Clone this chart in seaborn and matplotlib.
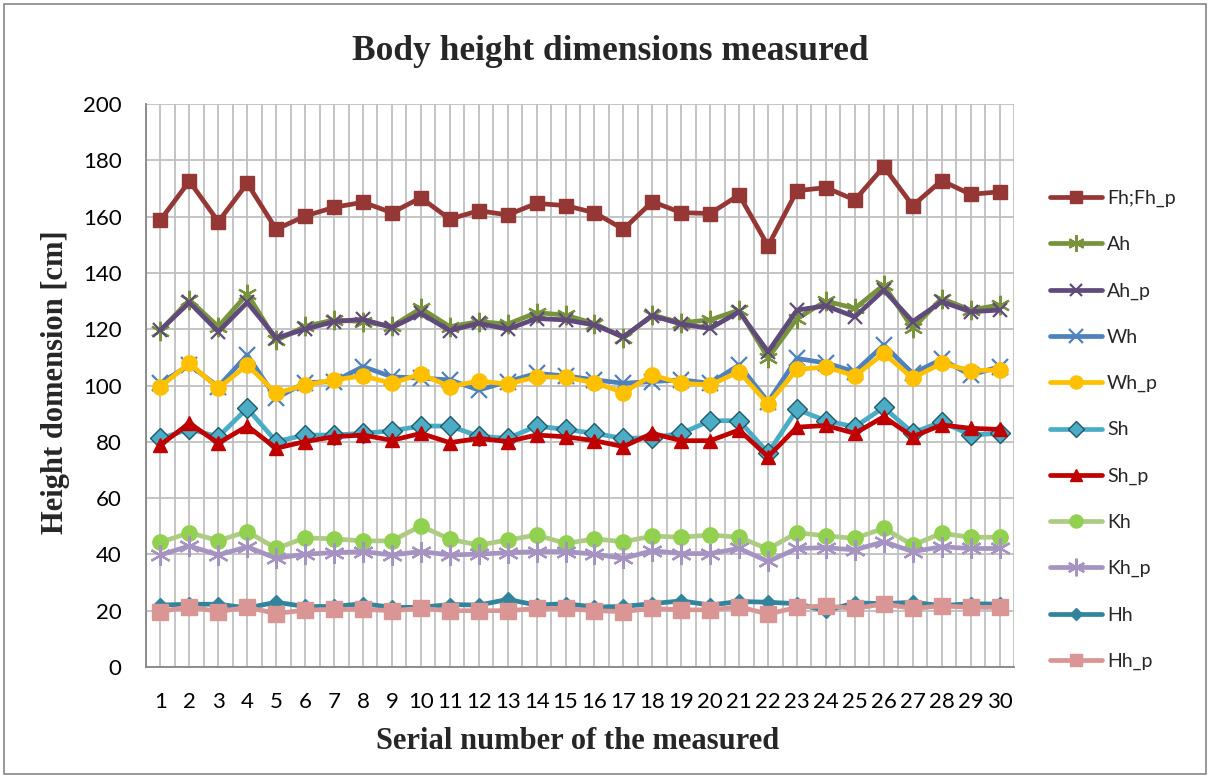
import numpy as np
import pandas as pd
import matplotlib
matplotlib.use("Agg")
import matplotlib.pyplot as plt
import seaborn as sns
from matplotlib.patches import Rectangle

# Serial numbers of the measured persons
serial = list(range(1, 31))

# Height dimensions [cm]
fh = [158.8, 172.6, 158.2, 171.8, 155.5, 160.2, 163.3, 165.1, 161.4, 166.7,
      159.1, 162.1, 160.6, 164.7, 163.9, 161.4, 155.5, 165.3, 161.4, 161.1,
      167.7, 149.6, 169.2, 170.3, 165.9, 177.7, 163.9, 172.8, 167.9, 168.8]
ah = [119.5, 130.4, 120.9, 132.5, 116.0, 121.0, 123.3, 122.7, 121.0, 127.4,
      120.9, 122.7, 121.8, 125.9, 125.0, 122.0, 117.0, 125.0, 122.3, 123.3,
      126.8, 109.8, 123.8, 130.0, 127.4, 135.7, 120.3, 130.9, 126.8, 128.6]
ah_p = [119.7, 129.5, 119.1, 129.5, 116.9, 120.0, 122.7, 123.5, 120.6, 125.6,
        119.5, 122.1, 120.0, 123.8, 123.3, 121.5, 117.3, 124.8, 121.8, 120.3,
        126.2, 112.0, 126.8, 128.3, 124.4, 133.9, 122.7, 129.8, 126.2, 126.8]
wh = [100.8, 107.3, 99.6, 110.8, 95.5, 101.0, 101.4, 106.7, 103.1, 102.6,
      102.0, 98.4, 101.4, 104.3, 103.4, 102.0, 100.8, 101.4, 102.0, 100.8,
      107.3, 94.2, 109.6, 108.0, 104.9, 114.4, 104.3, 109.3, 103.7, 106.7]
wh_p = [99.6, 107.9, 99.0, 107.3, 97.2, 100.2, 102.0, 103.4, 100.8, 104.1,
        99.6, 101.6, 100.5, 103.1, 102.9, 101.0, 97.5, 103.7, 100.8, 100.2,
        104.9, 93.4, 105.7, 106.6, 103.4, 111.4, 102.6, 107.9, 105.3, 105.5]
sh = [81.2, 84.5, 81.8, 91.9, 80.1, 82.4, 82.4, 83.0, 83.9, 85.6,
      85.6, 82.0, 81.2, 85.6, 84.4, 83.0, 81.2, 81.5, 83.0, 87.5,
      87.5, 76.1, 91.5, 87.5, 85.3, 92.2, 83.2, 87.1, 82.4, 83.0]
sh_p = [78.9, 86.6, 79.5, 85.6, 77.7, 80.1, 81.8, 82.4, 80.5, 83.0,
        79.7, 81.2, 80.1, 82.4, 81.8, 80.4, 78.3, 83.0, 80.4, 80.4,
        84.2, 74.7, 85.2, 85.8, 83.0, 88.9, 81.8, 86.0, 84.8, 84.4]
kh = [44.3, 47.7, 44.9, 48.1, 42.1, 45.9, 45.5, 44.8, 44.8, 50.1,
      45.4, 43.3, 45.1, 46.9, 43.9, 45.5, 44.5, 46.5, 46.1, 46.9,
      46.1, 41.9, 47.7, 46.6, 45.7, 49.3, 43.3, 47.5, 46.1, 46.1]
kh_p = [39.8, 43.0, 39.8, 42.7, 38.6, 40.1, 40.6, 41.0, 39.8, 41.0,
        39.8, 40.1, 40.6, 41.0, 41.0, 40.1, 38.6, 41.3, 40.3, 40.3,
        42.1, 37.5, 42.1, 42.4, 41.6, 44.5, 41.0, 42.7, 42.1, 42.1]
hh = [22.0, 22.3, 22.3, 21.0, 23.0, 21.5, 21.5, 22.5, 21.2, 21.2,
      22.2, 22.0, 24.0, 22.0, 22.5, 21.3, 21.5, 22.5, 23.5, 22.0,
      23.3, 23.0, 22.5, 20.0, 22.8, 22.5, 23.0, 21.8, 22.5, 22.3]
hh_p = [19.7, 21.4, 19.7, 21.2, 19.0, 20.2, 20.5, 20.5, 20.0, 20.8,
        20.0, 20.0, 20.0, 20.8, 20.8, 20.0, 19.7, 20.8, 20.3, 20.3,
        21.4, 18.8, 21.2, 21.7, 20.8, 22.4, 20.8, 21.7, 21.2, 21.2]

labels = ["Fh;Fh_p", "Ah", "Ah_p", "Wh", "Wh_p", "Sh", "Sh_p", "Kh", "Kh_p", "Hh", "Hh_p"]
values = [fh, ah, ah_p, wh, wh_p, sh, sh_p, kh, kh_p, hh, hh_p]

# line colour, marker, marker face, marker edge, marker size
styles = [
    ("#953735", "s", "#953735", "#953735", 10),
    ("#77933C", (6, 2, 0), "#77933C", "#77933C", 14),
    ("#604A7B", "x", "#604A7B", "#604A7B", 10),
    ("#4F81BD", "x", "#4F81BD", "#4F81BD", 12),
    ("#FFC000", "o", "#FFC000", "#FFC000", 11),
    ("#4BACC6", "D", "#4BACC6", "#215968", 10),
    ("#C00000", "^", "#C00000", "#C00000", 10),
    ("#AECB84", "o", "#92D050", "#92D050", 11),
    ("#A593C2", (6, 2, 0), "#A593C2", "#A593C2", 15),
    ("#31849B", "D", "#31849B", "#31849B", 7),
    ("#D99694", "s", "#D99694", "#D99694", 11),
]

sns.set_theme(style="white")
plt.rcParams["font.family"] = ["Lato", "DejaVu Sans"]

fig = plt.figure(figsize=(12.1, 7.78), dpi=100)
ax = fig.add_axes([146 / 1210, 1 - 667 / 778, (1014 - 146) / 1210, (667 - 104) / 778])

for lab, vals, (col, mk, mfc, mec, ms) in zip(labels, values, styles):
    sns.lineplot(x=serial, y=vals, ax=ax, color=col, linewidth=3.4, marker=mk,
                 markersize=ms, markerfacecolor=mfc, markeredgecolor=mec,
                 markeredgewidth=1.6 if mk in ("x", (6, 2, 0)) else 1.0,
                 label=lab, zorder=3)

ax.set_xlim(0.5, 30.5)
ax.set_ylim(0, 200)
ax.set_yticks(np.arange(0, 201, 20))
ax.set_xticks(serial)
ax.set_xticks(np.arange(0.5, 31, 1), minor=True)
ax.set_xticklabels([str(s) for s in serial])
ax.tick_params(axis="x", which="major", length=0, labelsize=16, pad=18, labelcolor="black")
ax.tick_params(axis="x", which="minor", length=6, width=1.2, color="#868686", direction="out")
ax.tick_params(axis="y", which="major", length=6.5, width=1.2, color="#868686", labelsize=16,
               direction="out", pad=11, labelcolor="black")
ax.grid(True, which="major", axis="both", color="#BFBFBF", linewidth=1.3)
ax.grid(True, which="minor", axis="x", color="#BFBFBF", linewidth=1.3)
ax.set_axisbelow(True)
for side in ["left", "bottom"]:
    ax.spines[side].set_color("#868686")
    ax.spines[side].set_linewidth(1.3)
for side in ["top", "right"]:
    ax.spines[side].set_visible(False)

serif = ["Liberation Serif", "DejaVu Serif"]
ax.set_xlabel("Serial number of the measured", fontsize=22, fontweight="bold", family=serif)
ax.set_ylabel("Height domension [cm]", fontsize=22, fontweight="bold", family=serif)
ax.xaxis.set_label_coords(0.497, (667 - 727) / 563)
ax.yaxis.set_label_coords((70 - 146) / 868, 0.505)
fig.text(0.504, 1 - 52 / 778, "Body height dimensions measured", ha="center", va="center",
         fontsize=25.5, fontweight="bold", family=serif)

ax.legend(loc="upper left", bbox_to_anchor=(1042 / 1210, 1 - 182 / 778), bbox_transform=fig.transFigure,
          frameon=False, fontsize=14, labelspacing=1.5, handlelength=2.7, handletextpad=0.25,
          borderaxespad=0, markerscale=0.85)

fig.patches.append(Rectangle((4 / 1210, 4 / 778), 1 - 8 / 1210, 1 - 8 / 778, transform=fig.transFigure,
                             fill=False, edgecolor="#868686", linewidth=1.2))

fig.savefig("out.png", dpi=100)
